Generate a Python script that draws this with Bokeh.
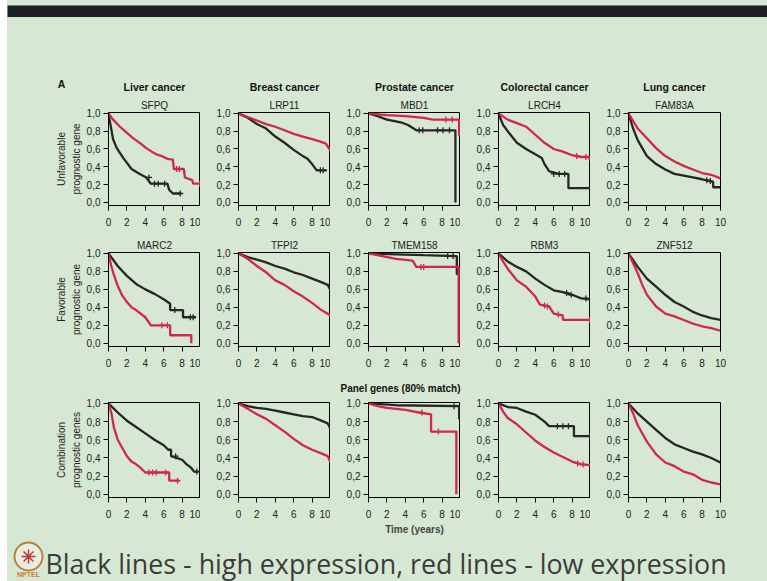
from bokeh.plotting import figure
from bokeh.layouts import column, row
from bokeh.models import Range1d, FixedTicker, Title
from bokeh.embed import file_html
from bokeh.resources import INLINE
from bokeh.core.properties import value

# ---------------- data ----------------
cancers = ["Liver cancer", "Breast cancer", "Prostate cancer", "Colorectal cancer", "Lung cancer"]
genes_unfavorable = ["SFPQ", "LRP11", "MBD1", "LRCH4", "FAM83A"]
genes_favorable = ["MARC2", "TFPI2", "TMEM158", "RBM3", "ZNF512"]
row_label_1 = ["Unfavorable", "prognostic gene"]
row_label_2 = ["Favorable", "prognostic gene"]
row_label_3 = ["Combination", "prognostic genes"]
x_ticks = [0, 2, 4, 6, 8, 10]
y_ticks = [0.0, 0.2, 0.4, 0.6, 0.8, 1.0]
y_tick_labels = ["0,0", "0,2", "0,4", "0,6", "0,8", "1,0"]
panel_letter = "A"
panel_header = "Panel genes (80% match)"
x_label = "Time (years)"
caption = "Black lines - high expression, red lines - low expression"
logo_text = "NPTEL"

# Row 1: unfavorable prognostic genes (black = high, red = low expression)
liver_u_black_t = [0, 0.2, 0.5, 0.9, 1.6, 2.5, 3.4, 4.1, 4.6, 6.4, 6.6, 7.0, 7.9]
liver_u_black_s = [1.0, 0.88, 0.71, 0.61, 0.50, 0.375, 0.32, 0.28, 0.21, 0.21, 0.14, 0.10, 0.10]
liver_u_red_t = [0, 0.5, 1.25, 2.0, 2.7, 3.5, 4.1, 4.7, 5.2, 5.8, 6.4, 7.0, 7.1, 8.2, 8.3, 9.1, 9.2, 9.8]
liver_u_red_s = [1.0, 0.93, 0.85, 0.78, 0.72, 0.66, 0.61, 0.57, 0.54, 0.52, 0.49, 0.48, 0.375, 0.375, 0.28, 0.25, 0.21, 0.21]

breast_u_black_t = [0, 1, 2, 3, 4, 5, 6, 7, 7.5, 8, 8.5, 9.6]
breast_u_black_s = [1.0, 0.95, 0.88, 0.83, 0.74, 0.67, 0.59, 0.52, 0.49, 0.43, 0.36, 0.36]
breast_u_red_t = [0, 1, 2, 3, 4, 5, 6, 7, 8, 9, 9.5, 10]
breast_u_red_s = [1.0, 0.96, 0.92, 0.88, 0.85, 0.81, 0.77, 0.74, 0.71, 0.68, 0.66, 0.58]

prostate_u_black_t = [0, 1, 2, 3.5, 4.3, 5.2, 9.45, 9.45]
prostate_u_black_s = [1.0, 0.97, 0.93, 0.90, 0.87, 0.81, 0.81, 0.0]
prostate_u_red_t = [0, 2, 4, 6, 7, 9.85, 9.85]
prostate_u_red_s = [1.0, 0.98, 0.97, 0.95, 0.93, 0.93, 0.75]

colorectal_u_black_t = [0, 0.5, 1, 2, 3, 4, 4.7, 5.0, 5.5, 6.5, 7.6, 7.6, 10]
colorectal_u_black_s = [1.0, 0.87, 0.80, 0.67, 0.60, 0.54, 0.50, 0.43, 0.35, 0.32, 0.32, 0.16, 0.16]
colorectal_u_red_t = [0, 1, 2, 3, 4, 5, 6, 7, 8, 9, 9.9, 9.9, 10]
colorectal_u_red_s = [1.0, 0.93, 0.89, 0.85, 0.76, 0.67, 0.60, 0.57, 0.53, 0.51, 0.51, 0.48, 0.48]

lung_u_black_t = [0, 0.5, 1, 1.5, 2, 3, 4, 5, 6, 7, 8, 9.2, 9.2, 10]
lung_u_black_s = [1.0, 0.83, 0.70, 0.61, 0.52, 0.43, 0.37, 0.32, 0.30, 0.28, 0.26, 0.23, 0.17, 0.17]
lung_u_red_t = [0, 1, 2, 3, 4, 5, 6, 7, 8, 9, 10]
lung_u_red_s = [1.0, 0.83, 0.72, 0.61, 0.52, 0.46, 0.41, 0.37, 0.33, 0.31, 0.27]

# Row 2: favorable prognostic genes
liver_f_black_t = [0, 1, 2, 3, 4, 5, 6, 6.7, 6.7, 8.1, 8.1, 9.5]
liver_f_black_s = [1.0, 0.86, 0.75, 0.66, 0.60, 0.55, 0.49, 0.44, 0.37, 0.37, 0.29, 0.29]
liver_f_red_t = [0, 0.3, 0.5, 1, 1.5, 2, 2.5, 3, 4, 4.6, 6.7, 6.7, 9.0, 9.0]
liver_f_red_s = [1.0, 0.86, 0.79, 0.64, 0.53, 0.46, 0.40, 0.37, 0.29, 0.20, 0.20, 0.09, 0.09, 0.0]

breast_f_black_t = [0, 1, 2, 3, 4, 5, 6, 7, 8, 9, 9.7, 10]
breast_f_black_s = [1.0, 0.96, 0.93, 0.90, 0.86, 0.83, 0.79, 0.76, 0.72, 0.68, 0.65, 0.59]
breast_f_red_t = [0, 1, 2, 3, 4, 5, 6, 7, 8, 9, 10]
breast_f_red_s = [1.0, 0.94, 0.86, 0.79, 0.70, 0.65, 0.58, 0.52, 0.45, 0.37, 0.31]

prostate_f_black_t = [0, 3, 6, 9.6, 9.6, 9.9]
prostate_f_black_s = [1.0, 0.99, 0.98, 0.97, 0.77, 0.77]
prostate_f_red_t = [0, 1.5, 3, 4.8, 5.2, 9.8, 9.8]
prostate_f_red_s = [1.0, 0.97, 0.94, 0.92, 0.85, 0.85, 0.0]

colorectal_f_black_t = [0, 1, 2, 3, 4, 5, 6, 7, 8, 9, 10]
colorectal_f_black_s = [1.0, 0.91, 0.85, 0.80, 0.72, 0.65, 0.59, 0.57, 0.54, 0.50, 0.49]
colorectal_f_red_t = [0, 0.5, 1, 2, 3, 4, 4.5, 5.5, 6.0, 7.0, 7.0, 10]
colorectal_f_red_s = [1.0, 0.91, 0.83, 0.70, 0.63, 0.52, 0.43, 0.41, 0.33, 0.31, 0.26, 0.26]

lung_f_black_t = [0, 1, 2, 3, 4, 5, 6, 7, 8, 9, 10]
lung_f_black_s = [1.0, 0.85, 0.72, 0.63, 0.54, 0.46, 0.41, 0.35, 0.31, 0.28, 0.26]
lung_f_red_t = [0, 0.5, 1, 1.5, 2, 3, 4, 5, 6, 7, 8, 9, 10]
lung_f_red_s = [1.0, 0.89, 0.78, 0.65, 0.54, 0.41, 0.33, 0.30, 0.26, 0.22, 0.19, 0.17, 0.14]

# Row 3: combination of prognostic genes
liver_c_black_t = [0, 1, 2, 3, 4, 5, 6, 6.5, 6.8, 6.8, 8, 8.5, 9, 9.3, 9.8]
liver_c_black_s = [1.0, 0.90, 0.81, 0.74, 0.67, 0.60, 0.54, 0.49, 0.49, 0.42, 0.38, 0.33, 0.29, 0.25, 0.25]
liver_c_red_t = [0, 0.3, 0.6, 1, 1.5, 2, 2.5, 3, 3.5, 4, 6.6, 6.6, 7.7]
liver_c_red_s = [1.0, 0.90, 0.73, 0.60, 0.51, 0.42, 0.36, 0.33, 0.29, 0.24, 0.24, 0.15, 0.15]

breast_c_black_t = [0, 1, 2, 3, 4, 5, 6, 7, 8, 9, 9.7, 10]
breast_c_black_s = [1.0, 0.97, 0.95, 0.94, 0.92, 0.90, 0.88, 0.86, 0.85, 0.81, 0.78, 0.72]
breast_c_red_t = [0, 1, 2, 3, 4, 5, 6, 7, 8, 9, 9.7, 10]
breast_c_red_s = [1.0, 0.94, 0.88, 0.83, 0.76, 0.69, 0.61, 0.54, 0.49, 0.45, 0.42, 0.35]

prostate_c_black_t = [0, 3, 9.85, 9.85, 10]
prostate_c_black_s = [1.0, 0.98, 0.97, 0.83, 0.83]
prostate_c_red_t = [0, 1, 2, 4, 5.5, 6.8, 6.8, 9.55, 9.55]
prostate_c_red_s = [1.0, 0.97, 0.95, 0.93, 0.90, 0.88, 0.69, 0.69, 0.0]

colorectal_c_black_t = [0, 1, 2, 3, 4, 5, 5.5, 8.2, 8.2, 10]
colorectal_c_black_s = [1.0, 0.96, 0.95, 0.91, 0.875, 0.80, 0.75, 0.75, 0.64, 0.64]
colorectal_c_red_t = [0, 0.5, 1, 2, 3, 4, 5, 6, 7, 8, 9, 10]
colorectal_c_red_s = [1.0, 0.91, 0.84, 0.77, 0.68, 0.59, 0.52, 0.46, 0.41, 0.36, 0.33, 0.32]

lung_c_black_t = [0, 1, 2, 3, 4, 5, 6, 7, 8, 9, 10]
lung_c_black_s = [1.0, 0.89, 0.80, 0.71, 0.62, 0.55, 0.51, 0.47, 0.44, 0.40, 0.35]
lung_c_red_t = [0, 0.5, 1, 2, 3, 4, 5, 6, 7, 8, 9, 10]
lung_c_red_s = [1.0, 0.89, 0.76, 0.58, 0.44, 0.35, 0.31, 0.25, 0.22, 0.16, 0.13, 0.11]

# censoring marks (+) visible on the flat tails: (t, s)
liver_u_black_cens_t = [4.4, 5.0, 5.4, 6.1, 7.8]
liver_u_black_cens_s = [0.28, 0.21, 0.21, 0.21, 0.10]
liver_u_red_cens_t = [7.4, 7.7, 9.9]
liver_u_red_cens_s = [0.375, 0.375, 0.21]
breast_u_black_cens_t = [8.9, 9.2]
breast_u_black_cens_s = [0.36, 0.36]
prostate_u_black_cens_t = [5.5, 5.9, 7.5, 8.1, 8.8]
prostate_u_black_cens_s = [0.81, 0.81, 0.81, 0.81, 0.81]
prostate_u_red_cens_t = [8.4, 9.1]
prostate_u_red_cens_s = [0.93, 0.93]
colorectal_u_black_cens_t = [6.0, 6.6, 7.2]
colorectal_u_black_cens_s = [0.32, 0.32, 0.32]
colorectal_u_red_cens_t = [8.5, 9.5]
colorectal_u_red_cens_s = [0.52, 0.51]
lung_u_black_cens_t = [8.5, 8.9]
lung_u_black_cens_s = [0.25, 0.24]
liver_f_black_cens_t = [7.2, 8.9, 9.2]
liver_f_black_cens_s = [0.37, 0.29, 0.29]
liver_f_red_cens_t = [5.8, 6.4]
liver_f_red_cens_s = [0.20, 0.20]
prostate_f_black_cens_t = [8.6, 9.2]
prostate_f_black_cens_s = [0.97, 0.97]
prostate_f_red_cens_t = [5.7, 6.0]
prostate_f_red_cens_s = [0.85, 0.85]
colorectal_f_black_cens_t = [7.4, 7.9, 9.5]
colorectal_f_black_cens_s = [0.56, 0.54, 0.50]
colorectal_f_red_cens_t = [5.0, 5.3, 6.5, 9.9]
colorectal_f_red_cens_s = [0.42, 0.41, 0.32, 0.26]
liver_c_black_cens_t = [7.3, 9.6]
liver_c_black_cens_s = [0.42, 0.25]
liver_c_red_cens_t = [4.4, 4.8, 5.2, 6.2, 7.5]
liver_c_red_cens_s = [0.24, 0.24, 0.24, 0.24, 0.15]
prostate_c_black_cens_t = [9.3]
prostate_c_black_cens_s = [0.97]
prostate_c_red_cens_t = [5.8, 7.6]
prostate_c_red_cens_s = [0.90, 0.69]
colorectal_c_black_cens_t = [6.4, 7.0, 7.6, 9.9]
colorectal_c_black_cens_s = [0.75, 0.75, 0.75, 0.64]
colorectal_c_red_cens_t = [8.6, 9.2]
colorectal_c_red_cens_s = [0.34, 0.33]

curves = [
    [(liver_u_black_t, liver_u_black_s, liver_u_red_t, liver_u_red_s),
     (breast_u_black_t, breast_u_black_s, breast_u_red_t, breast_u_red_s),
     (prostate_u_black_t, prostate_u_black_s, prostate_u_red_t, prostate_u_red_s),
     (colorectal_u_black_t, colorectal_u_black_s, colorectal_u_red_t, colorectal_u_red_s),
     (lung_u_black_t, lung_u_black_s, lung_u_red_t, lung_u_red_s)],
    [(liver_f_black_t, liver_f_black_s, liver_f_red_t, liver_f_red_s),
     (breast_f_black_t, breast_f_black_s, breast_f_red_t, breast_f_red_s),
     (prostate_f_black_t, prostate_f_black_s, prostate_f_red_t, prostate_f_red_s),
     (colorectal_f_black_t, colorectal_f_black_s, colorectal_f_red_t, colorectal_f_red_s),
     (lung_f_black_t, lung_f_black_s, lung_f_red_t, lung_f_red_s)],
    [(liver_c_black_t, liver_c_black_s, liver_c_red_t, liver_c_red_s),
     (breast_c_black_t, breast_c_black_s, breast_c_red_t, breast_c_red_s),
     (prostate_c_black_t, prostate_c_black_s, prostate_c_red_t, prostate_c_red_s),
     (colorectal_c_black_t, colorectal_c_black_s, colorectal_c_red_t, colorectal_c_red_s),
     (lung_c_black_t, lung_c_black_s, lung_c_red_t, lung_c_red_s)],
]
censors = {
    (0, 0): [(liver_u_black_cens_t, liver_u_black_cens_s, "k"), (liver_u_red_cens_t, liver_u_red_cens_s, "r")],
    (0, 1): [(breast_u_black_cens_t, breast_u_black_cens_s, "k")],
    (0, 2): [(prostate_u_black_cens_t, prostate_u_black_cens_s, "k"), (prostate_u_red_cens_t, prostate_u_red_cens_s, "r")],
    (0, 3): [(colorectal_u_black_cens_t, colorectal_u_black_cens_s, "k"), (colorectal_u_red_cens_t, colorectal_u_red_cens_s, "r")],
    (0, 4): [(lung_u_black_cens_t, lung_u_black_cens_s, "k")],
    (1, 0): [(liver_f_black_cens_t, liver_f_black_cens_s, "k"), (liver_f_red_cens_t, liver_f_red_cens_s, "r")],
    (1, 2): [(prostate_f_black_cens_t, prostate_f_black_cens_s, "k"), (prostate_f_red_cens_t, prostate_f_red_cens_s, "r")],
    (1, 3): [(colorectal_f_black_cens_t, colorectal_f_black_cens_s, "k"), (colorectal_f_red_cens_t, colorectal_f_red_cens_s, "r")],
    (2, 0): [(liver_c_black_cens_t, liver_c_black_cens_s, "k"), (liver_c_red_cens_t, liver_c_red_cens_s, "r")],
    (2, 2): [(prostate_c_black_cens_t, prostate_c_black_cens_s, "k"), (prostate_c_red_cens_t, prostate_c_red_cens_s, "r")],
    (2, 3): [(colorectal_c_black_cens_t, colorectal_c_black_cens_s, "k"), (colorectal_c_red_cens_t, colorectal_c_red_cens_s, "r")],
}
row_labels = [row_label_1, row_label_2, row_label_3]

# ---------------- style / layout ----------------
BG = "#d6e8d3"
BLACK = "#262626"
RED = "#d2274a"
FONT = "Liberation Sans"
FRAME_W, FRAME_H = 92, 95
LEFT0, GAP, RIGHT_LAST = 101, 38, 47
TOPS = [15, 19, 6]
BOTTOMS = [28, 22, 42]
COL_W = 760
MARGIN_L = 7


def make_panel(r, c):
    left = LEFT0 if c == 0 else GAP
    right = RIGHT_LAST if c == 4 else 0
    top, bottom = TOPS[r], BOTTOMS[r]
    p = figure(width=left + FRAME_W + right, height=top + FRAME_H + bottom,
               x_range=Range1d(0, 10), y_range=Range1d(-0.035, 1.01),
               output_backend="svg", toolbar_location=None, title=None,
               min_border_left=left, min_border_right=right,
               min_border_top=top, min_border_bottom=bottom)
    p.background_fill_color = BG
    p.border_fill_color = BG
    p.outline_line_color = "black"
    p.outline_line_width = 1
    p.grid.visible = False
    p.xaxis.ticker = FixedTicker(ticks=x_ticks)
    p.yaxis.ticker = FixedTicker(ticks=y_ticks)
    p.yaxis.major_label_overrides = dict(zip(y_ticks, y_tick_labels))
    for ax in (p.xaxis[0], p.yaxis[0]):
        ax.axis_line_color = "black"
        ax.major_tick_line_color = "black"
        ax.minor_tick_line_color = None
        ax.major_tick_in = 0
        ax.major_tick_out = 5
        ax.major_label_text_font = FONT
        ax.major_label_text_font_size = "10px"
        ax.major_label_text_color = "#222222"
    p.xaxis.major_label_standoff = 7
    p.yaxis.major_label_standoff = 3

    bt, bs, rt, rs = curves[r][c]
    p.line(bt, bs, line_color=BLACK, line_width=2.3)
    p.line(rt, rs, line_color=RED, line_width=2.3)
    for ct, cs, who in censors.get((r, c), []):
        p.scatter(ct, cs, marker="cross", size=6, line_width=1.3,
                  line_color=BLACK if who == "k" else RED)

    if r in (0, 1):
        gene = genes_unfavorable[c] if r == 0 else genes_favorable[c]
        p.add_layout(Title(text=gene, align="center", text_font=FONT,
                           text_font_size="10px", text_font_style="normal",
                           text_color="#222222", standoff=4), "above")
    if c == 0:
        l1, l2 = row_labels[r]
        p.add_layout(Title(text=l2, align="center", text_font=FONT, text_font_size="10px",
                           text_font_style="normal", text_color="#222222", standoff=3,
                           offset=8), "left")
        p.add_layout(Title(text=l1, align="center", text_font=FONT, text_font_size="10px",
                           text_font_style="normal", text_color="#222222", standoff=2,
                           offset=8), "left")
    if r == 2 and c == 2:
        p.xaxis.axis_label = x_label
        p.xaxis.axis_label_text_font = FONT
        p.xaxis.axis_label_text_font_size = "10px"
        p.xaxis.axis_label_text_font_style = "bold"
        p.xaxis.axis_label_standoff = 3
    return p


def blank(w, h, fill=BG):
    p = figure(width=w, height=h, x_range=Range1d(0, w), y_range=Range1d(0, h),
               output_backend="svg", toolbar_location=None, title=None,
               x_axis_type=None, y_axis_type=None, min_border=0)
    p.background_fill_color = fill
    p.border_fill_color = fill
    p.outline_line_color = None
    p.grid.visible = False
    return p


frame_centers = [LEFT0 + FRAME_W / 2 + c * (FRAME_W + GAP) for c in range(5)]

top_white = blank(COL_W, 5, "white")
bar = blank(COL_W, 12, "#1e2124")

header = blank(COL_W, 78)
header.text(x=frame_centers, y=[9] * 5, text=cancers, text_align="center", text_baseline="middle",
            text_font=value(FONT), text_font_size="10.5px", text_font_style="bold", text_color="#111111")
header.text(x=[54], y=[12], text=[panel_letter], text_align="center", text_baseline="middle",
            text_font=value(FONT), text_font_size="10.5px", text_font_style="bold", text_color="#111111")

strip = blank(COL_W, 27)
strip.text(x=[frame_centers[2] - 14], y=[8], text=[panel_header], text_align="center",
           text_baseline="middle", text_font=value(FONT), text_font_size="10px",
           text_font_style="bold", text_color="#111111")

cap = blank(COL_W, 42)
cap.text(x=[38], y=[18], text=[caption], text_align="left", text_baseline="middle",
         text_font=value("Open Sans"), text_font_size="26.8px", text_color="#3c3c3c")
# small logo
cap.scatter(x=[21], y=[25], marker="circle", size=28, fill_color="#e6ede4",
            line_color="#b8823c", line_width=2)
cap.scatter(x=[21], y=[25], marker="asterisk", size=14, line_color="#c0392b", line_width=1.5)
cap.text(x=[21], y=[7], text=[logo_text], text_align="center", text_baseline="middle",
         text_font=value(FONT), text_font_size="7px", text_font_style="bold", text_color="#c8802a")

rows = [row(*[make_panel(r, c) for c in range(5)], styles={"background-color": BG})
        for r in range(3)]
main = column(top_white, bar, header, rows[0], rows[1], strip, rows[2], cap,
              styles={"background-color": BG})
left_white = blank(MARGIN_L, 581, "white")
layout = row(left_white, main, styles={"background-color": "white"})

open("out.html", "w").write(file_html(layout, INLINE))
